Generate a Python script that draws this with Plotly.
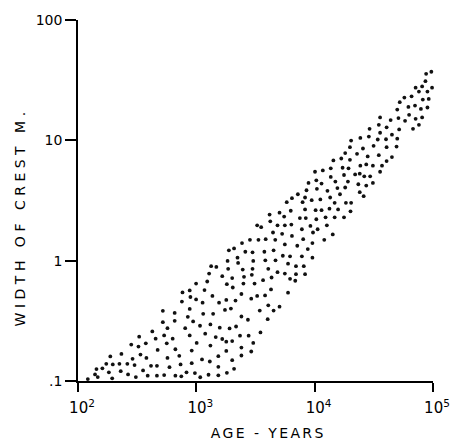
import numpy as np
import plotly.graph_objects as go

# Values, stored as base-10 exponents
# (age in years, crest width in metres)
age_log10 = [
    2.883, 2.944, 2.878, 2.950, 2.717, 2.817, 2.944, 2.717, 2.817, 2.928,
    2.628, 2.756, 2.906, 2.517, 2.656, 2.728, 2.800, 2.944, 2.450, 2.511,
    2.573, 2.750, 2.673, 2.823, 2.961, 2.367, 2.273, 2.528, 2.578, 2.756,
    2.856, 2.239, 2.294, 2.350, 2.417, 2.478, 2.617, 2.667, 2.773, 2.867,
    2.961, 2.156, 2.206, 2.261, 2.361, 2.423, 2.550, 2.917, 2.083, 2.144,
    2.167, 2.289, 2.489, 2.589, 2.667, 2.728, 2.823, 2.873, 2.461, 2.973,
    2.988, 3.033,
    3.619, 3.703, 3.625, 3.514, 3.548, 3.686, 3.648, 3.586, 3.525, 3.453,
    3.386, 3.275, 3.319, 3.414, 3.475, 3.575, 3.653, 3.264, 3.348, 3.353,
    3.481, 3.669, 3.125, 3.169, 3.269, 3.392, 3.475, 3.608, 3.108, 3.219,
    3.303, 3.403, 3.469, 3.564, 3.636, 3.686, 2.998, 3.092, 3.258, 3.308,
    3.398, 3.492, 3.631, 3.069, 3.136, 3.381, 3.464, 3.514, 3.581, 2.998,
    3.053, 3.192, 3.253, 3.331, 3.536, 3.608, 3.653, 3.703, 3.058, 3.142,
    3.242, 3.292, 3.381, 3.436, 3.603, 3.031, 3.119, 3.198, 3.281, 3.336,
    3.542, 3.075, 3.164, 3.219, 3.253, 3.303, 3.369, 3.442, 3.481, 3.003,
    3.119, 3.253, 3.381, 3.464, 3.381, 3.186, 3.048, 3.114, 3.303, 3.186,
    3.319, 3.258, 3.103, 3.186, 3.583, 3.667,
    4.553, 4.542, 4.464, 4.553, 4.386, 4.458, 4.308, 4.498, 4.298, 4.408,
    4.258, 4.358, 4.542, 4.448, 4.158, 4.225, 4.298, 4.386, 4.436, 4.492,
    4.136, 4.236, 4.286, 4.003, 4.069, 4.553, 4.248, 4.342, 4.381, 4.419,
    4.469, 4.136, 4.058, 4.014, 4.175, 4.281, 4.369, 4.436, 4.492, 3.948,
    4.192, 4.258, 3.931, 4.019, 4.108, 4.214, 4.381, 4.414, 3.858, 3.808,
    3.919, 3.975, 4.048, 4.131, 4.169, 4.264, 4.308, 3.764, 3.898, 3.798,
    3.919, 4.008, 4.058, 4.125, 4.198, 4.303, 3.742, 3.875, 3.925, 4.014,
    4.092, 4.169, 4.248, 3.748, 3.803, 3.964, 4.025, 4.103, 3.892, 3.986,
    3.725, 3.808, 4.153, 4.081, 3.903, 3.981, 3.748, 3.853, 3.942, 3.731,
    3.792, 3.892, 3.981, 3.775, 3.842, 3.908, 3.748, 3.842, 3.919, 3.792,
    3.836, 3.775, 4.533,
    5.008, 4.986, 4.942, 4.936, 4.853, 4.908, 4.992, 4.881, 4.953, 4.758,
    4.819, 4.914, 4.964, 5.014, 4.719, 4.792, 4.848, 4.953, 4.898, 4.698,
    4.798, 4.708, 4.764, 4.853, 4.908, 4.642, 4.608, 4.714, 4.881, 4.831,
    4.653, 4.698, 4.603, 4.608, 4.692, 4.653, 4.608, 4.569,
]
width_log10 = [
    -0.264, -0.247, -0.340, -0.302, -0.417, -0.434, -0.401, -0.511, -0.500, -0.467,
    -0.588, -0.561, -0.561, -0.632, -0.648, -0.621, -0.648, -0.621, -0.697, -0.714,
    -0.687, -0.687, -0.742, -0.736, -0.747, -0.775, -0.796, -0.780, -0.808, -0.808,
    -0.791, -0.857, -0.862, -0.857, -0.857, -0.868, -0.874, -0.874, -0.885, -0.862,
    -0.852, -0.901, -0.895, -0.928, -0.918, -0.945, -0.912, -0.928, -0.984, -0.945,
    -0.967, -0.978, -0.967, -0.956, -0.956, -0.951, -0.956, -0.961, -0.816, -0.505,
    -0.934, -0.969,
    0.383, 0.399, 0.327, 0.294, 0.278, 0.294, 0.234, 0.179, 0.173, 0.173,
    0.146, 0.086, 0.102, 0.074, 0.069, 0.074, 0.086, -0.002, 0.025, -0.019,
    -0.002, 0.003, -0.046, -0.052, -0.068, -0.074, -0.068, -0.068, -0.107, -0.129,
    -0.145, -0.134, -0.118, -0.162, -0.140, -0.096, -0.190, -0.173, -0.195, -0.223,
    -0.190, -0.190, -0.239, -0.244, -0.293, -0.277, -0.316, -0.293, -0.289, -0.322,
    -0.349, -0.349, -0.326, -0.332, -0.415, -0.371, -0.415, -0.382, -0.442, -0.442,
    -0.409, -0.398, -0.464, -0.491, -0.486, -0.541, -0.530, -0.557, -0.563, -0.547,
    -0.596, -0.607, -0.635, -0.651, -0.673, -0.668, -0.623, -0.623, -0.684, -0.684,
    -0.706, -0.750, -0.722, -0.755, -0.788, -0.794, -0.821, -0.838, -0.827, -0.882,
    -0.899, -0.932, -0.948, -0.953, 0.003, 0.173,
    1.190, 1.129, 1.096, 1.063, 1.020, 1.031, 0.998, 0.954, 0.943, 0.932,
    0.894, 0.888, 0.877, 0.866, 0.833, 0.849, 0.838, 0.789, 0.800, 0.789,
    0.767, 0.772, 0.767, 0.739, 0.750, 0.739, 0.712, 0.717, 0.723, 0.701,
    0.701, 0.696, 0.641, 0.668, 0.657, 0.657, 0.635, 0.624, 0.646, 0.646,
    0.603, 0.608, 0.585, 0.597, 0.580, 0.552, 0.569, 0.536, 0.552, 0.519,
    0.525, 0.503, 0.509, 0.525, 0.481, 0.481, 0.481, 0.486, 0.486, 0.415,
    0.426, 0.420, 0.420, 0.432, 0.426, 0.410, 0.366, 0.354, 0.354, 0.344,
    0.360, 0.360, 0.360, 0.294, 0.300, 0.289, 0.261, 0.294, 0.261, 0.234,
    0.223, 0.206, 0.218, 0.173, 0.179, 0.146, 0.135, 0.124, 0.096, 0.041,
    0.036, 0.036, 0.025, -0.025, -0.046, -0.046, -0.107, -0.112, -0.112, -0.151,
    -0.167, -0.266, 1.007,
    1.613, 1.570, 1.553, 1.492, 1.438, 1.448, 1.438, 1.405, 1.405, 1.355,
    1.366, 1.339, 1.344, 1.327, 1.317, 1.278, 1.289, 1.273, 1.261, 1.256,
    1.212, 1.185, 1.162, 1.179, 1.190, 1.168, 1.108, 1.091, 1.129, 1.096,
    1.047, 1.014, 1.009, 0.943, 0.948, 0.861, 0.828, 0.789,
]

x_tick_vals = [1e2, 1e3, 1e4, 1e5]
x_tick_text = ["10<sup>2</sup>", "10<sup>3</sup>", "10<sup>4</sup>", "10<sup>5</sup>"]
y_tick_vals = [0.1, 1, 10, 100]
y_tick_text = [".1", "1", "10", "100"]
x_title = "AGE - YEARS"
y_title = "WIDTH OF CREST M."

age = 10 ** np.array(age_log10)
width = 10 ** np.array(width_log10)

FONT = "DejaVu Sans"

fig = go.Figure(
    go.Scatter(
        x=age, y=width, mode="markers",
        marker=dict(size=3.8, color="#111111", line=dict(width=0)),
        cliponaxis=False, hoverinfo="skip",
    )
)

fig.update_layout(
    width=462, height=441,
    margin=dict(l=78, r=24, t=17, b=60, pad=0),
    paper_bgcolor="white", plot_bgcolor="white",
    showlegend=False,
    font=dict(family=FONT, color="black", size=14),
    annotations=[
        dict(text=x_title, xref="paper", yref="paper",
             x=(271 - 78) / 360, y=(381 - 433) / 364,
             xanchor="center", yanchor="middle", showarrow=False,
             font=dict(family=FONT, size=14, color="black")),
        dict(text=y_title, xref="paper", yref="paper",
             x=(20 - 78) / 360, y=(381 - 215) / 364,
             xanchor="center", yanchor="middle", showarrow=False, textangle=-90,
             font=dict(family=FONT, size=14, color="black")),
    ],
)

fig.update_xaxes(
    type="log", range=[2, 5],
    tickmode="array", tickvals=x_tick_vals, ticktext=x_tick_text,
    ticks="outside", ticklen=9, tickwidth=1.6, tickcolor="black",
    showline=True, linecolor="black", linewidth=1.6,
    showgrid=False, zeroline=False,
    tickfont=dict(family=FONT, size=15, color="black"),
    ticklabelshift=4, ticklabelstandoff=3,
)
fig.update_yaxes(
    type="log", range=[-1, 2],
    tickmode="array", tickvals=y_tick_vals, ticktext=y_tick_text,
    ticks="outside", ticklen=11, tickwidth=1.6, tickcolor="black",
    showline=True, linecolor="black", linewidth=1.6,
    showgrid=False, zeroline=False,
    tickfont=dict(family=FONT, size=14, color="black"),
)

post = (
    "document.body.style.margin='0';"
    "document.querySelectorAll('.annotation-text').forEach(function(t){"
    "t.style.letterSpacing = (t.textContent.indexOf('WIDTH')===0) ? '4.5px' : '2.4px';});"
)

fig.write_html("out.html", post_script=post, config={"displayModeBar": False})
